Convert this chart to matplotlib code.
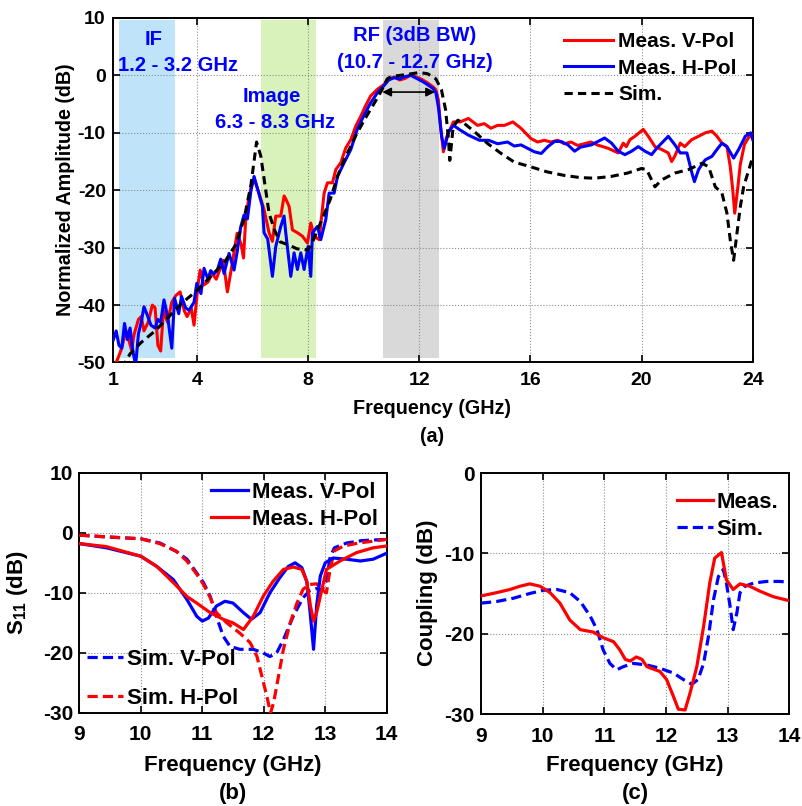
import matplotlib
matplotlib.use("Agg")
import matplotlib.pyplot as plt

plt.rcParams["font.family"] = ["Liberation Sans", "DejaVu Sans"]
plt.rcParams["font.weight"] = "bold"
plt.rcParams["mathtext.fontset"] = "custom"
plt.rcParams["mathtext.rm"] = "Liberation Sans:bold"
plt.rcParams["mathtext.bf"] = "Liberation Sans:bold"
plt.rcParams["axes.linewidth"] = 1.4
plt.rcParams["axes.unicode_minus"] = False
plt.rcParams["xtick.direction"] = "in"
plt.rcParams["ytick.direction"] = "in"

# ---------------- (a) normalized amplitude, 1-24 GHz ----------------
a_f_v = [1.0, 1.1, 1.2, 1.3, 1.45, 1.55, 1.65, 1.75, 1.9, 2.0, 2.1, 2.25, 2.4, 2.5, 2.6, 2.7,
         2.8, 2.95, 3.1, 3.25, 3.4, 3.55, 3.65, 3.8, 3.9, 4.05, 4.12, 4.25, 4.4, 4.55, 4.7,
         4.85, 4.95, 5.1, 5.25, 5.45, 5.6, 5.68, 5.76, 5.85, 5.95, 6.06, 6.24, 6.42, 6.6,
         6.72, 6.84, 7.02, 7.14, 7.2, 7.32, 7.44, 7.62, 7.8, 7.98, 8.1, 8.22, 8.4, 8.5, 8.58,
         8.7, 8.88, 9.0, 9.18, 9.36, 9.54, 9.72, 9.9, 10.07, 10.25, 10.5, 10.73, 10.9, 11.1,
         11.3, 11.5, 11.7, 11.9, 12.1, 12.3, 12.5, 12.6, 12.69, 12.77, 12.87, 12.99, 13.23,
         13.47, 13.77, 14.1, 14.34, 14.58, 14.82, 15.07, 15.37, 15.66, 16.02, 16.26, 16.5,
         16.74, 16.98, 17.22, 17.46, 17.7, 17.94, 18.18, 18.4, 18.8, 19.16, 19.34, 19.45,
         19.58, 19.76, 20.06, 20.24, 20.48, 20.72, 20.96, 21.08, 21.2, 21.39, 21.55, 21.8,
         22.05, 22.29, 22.53, 22.71, 22.89, 23.07, 23.19, 23.28, 23.35, 23.45, 23.55, 23.7,
         23.85, 24.0]
a_meas_v = [-50.5, -50, -48.8, -47.5, -44.4, -46, -47.8, -45, -42.5, -42, -44.5, -43, -40, -40.5,
            -47, -48, -41, -43, -39.5, -38.3, -37.7, -41, -42, -40.5, -43.5, -36.2, -33.9,
            -36.5, -36, -34.5, -35.5, -33.5, -32.2, -37.7, -33.5, -27.5, -29.5, -31.8, -25, -22,
            -19.5, -18.0, -20.5, -23.4, -27.4, -28.9, -24.5, -24.5, -21.0, -21.5, -22.8, -26.9,
            -27.4, -28, -29.2, -25.7, -28, -28.6, -24, -20.5, -18.7, -18.7, -16.4, -15.2, -12.6,
            -11.2, -8.8, -7.1, -5.3, -3.6, -2.4, -1.6, -0.6, -0.3, -0.8, -0.5, 0.1, -0.3, -0.7,
            -1.3, -2.0, -2.5, -4.3, -9, -13.3, -10.7, -8.1, -8.1, -7.5, -8.7, -8.4, -9.2, -8.7,
            -8.7, -8.1, -9.2, -11, -11.6, -11.3, -11.6, -11.3, -11.9, -11.6, -12.2, -11.9, -11.6,
            -12.1, -12.7, -13.5, -11.8, -12.4, -11.2, -10.6, -9.4, -10.6, -12.4, -12.9, -13.5,
            -15, -14, -11.8, -12.4, -11.2, -10.6, -10, -9.7, -10.6, -11.8, -12.4, -15.9, -20,
            -24, -20, -15.5, -12, -10.8, -10.3]

a_f_h = [1.0, 1.1, 1.2, 1.3, 1.4, 1.5, 1.6, 1.7, 1.8, 1.9, 2.0, 2.1, 2.2, 2.35, 2.5, 2.6, 2.7,
         2.82, 2.95, 3.1, 3.2, 3.35, 3.45, 3.6, 3.72, 3.9, 4.0, 4.15, 4.26, 4.4, 4.5, 4.62,
         4.74, 4.86, 4.98, 5.16, 5.34, 5.46, 5.58, 5.7, 5.82, 5.95, 6.06, 6.2, 6.36, 6.42,
         6.55, 6.72, 6.84, 7.02, 7.14, 7.2, 7.38, 7.5, 7.62, 7.74, 7.86, 8.0, 8.1, 8.16, 8.34,
         8.46, 8.64, 8.76, 8.94, 9.06, 9.3, 9.54, 9.77, 10.0, 10.25, 10.5, 10.73, 10.9, 11.1,
         11.3, 11.5, 11.7, 11.9, 12.1, 12.3, 12.5, 12.6, 12.69, 12.81, 12.9, 13.06, 13.23,
         13.47, 13.77, 14.17, 14.5, 14.82, 15.18, 15.42, 15.66, 15.9, 16.14, 16.39, 16.63,
         16.87, 17.1, 17.35, 17.59, 17.8, 18.19, 18.43, 18.67, 18.92, 19.16, 19.4, 19.64,
         19.88, 20.12, 20.36, 20.54, 20.72, 20.96, 21.2, 21.39, 21.63, 21.81, 21.9, 22.05,
         22.17, 22.29, 22.53, 22.71, 22.89, 23.07, 23.31, 23.49, 23.73, 23.92, 24.0]
a_meas_h = [-46, -44.5, -47, -47.5, -43.2, -46, -44, -48, -50.5, -45, -43, -40.3, -41.5, -43.5,
            -44, -42.5, -43, -39.1, -42, -47.5, -38.8, -41.5, -38.5, -40.5, -40.9, -39.5, -36.2,
            -38, -33.6, -35.5, -34, -34.6, -33.9, -32, -34.5, -31, -33.9, -30.5, -26.4, -24.3,
            -25, -20, -17.6, -20, -22.8, -27.4, -28.5, -35, -29.8, -26.3, -24.5, -27.4, -35,
            -30.9, -33.8, -30.9, -33.8, -29.8, -35, -27.4, -26.3, -28.6, -25.1, -20.5, -20.5,
            -17.6, -15.2, -12.9, -9.4, -7.1, -4.8, -3, -1.8, -0.8, -0.4, -0.6, -0.2, 0.0, -0.5,
            -1.0, -1.6, -2.3, -3.0, -5.5, -10.7, -12.7, -9.8, -8.7, -9.5, -10.4, -11.3, -11.3,
            -11.9, -11.6, -12.3, -12.1, -12.7, -13.3, -13.6, -12.4, -11.5, -11.5, -12.1, -13.2,
            -12.5, -12.1, -11.5, -10.9, -11.8, -13.2, -13.8, -13.2, -12.4, -13.2, -13.8, -12.7,
            -11.8, -10.6, -12.1, -13.5, -13.5, -17, -18.5, -16.4, -15.5, -14.7, -14.1, -12.9,
            -11.8, -12.4, -14.4, -12.9, -10.6, -10, -11.2]

a_f_sim = [1.3, 1.6, 2.0, 2.5, 3.0, 3.5, 4.0, 4.5, 5.0, 5.4, 5.7, 5.95, 6.15, 6.3, 6.45, 6.6,
           6.8, 7.0, 7.3, 7.6, 8.0, 8.2, 8.5, 8.8, 9.06, 9.3, 9.54, 9.77, 10.0, 10.25, 10.5,
           10.67, 10.85, 11.0, 11.3, 11.6, 12.0, 12.3, 12.6, 12.8, 12.95, 13.05, 13.1, 13.16,
           13.22, 13.39, 13.63, 13.99, 14.47, 14.95, 15.42, 16.0, 16.6, 17.2, 17.8, 18.3,
           18.9, 19.5, 20.0, 20.18, 20.36, 20.48, 20.72, 21.2, 21.69, 22.17, 22.41, 22.65,
           22.89, 23.07, 23.19, 23.31, 23.43, 23.55, 23.67, 23.86, 24.0]
a_sim = [-51, -48.5, -46.5, -44.5, -42, -39.5, -37.5, -35, -32.5, -29.5, -25, -19, -11.6, -14,
         -19, -24, -27, -29, -29.5, -30.2, -30.4, -28.6, -25.1, -21.6, -17.6, -14.7, -12.3, -10,
         -8, -5.9, -3.9, -2.4, -0.6, -0.2, 0.0, 0.2, 0.5, 0.3, -0.6, -2.5, -6, -11, -14.8, -12,
         -9, -7.8, -8.4, -9.8, -11.9, -13.6, -15.1, -15.9, -16.8, -17.4, -17.8, -17.9, -17.6,
         -17, -16.2, -16.4, -18.2, -19.4, -18.2, -17, -16.4, -15.3, -15.9, -19.4, -20.5, -24,
         -28.7, -32.2, -27.5, -22.9, -19.4, -16.4, -14.1]

# shaded frequency bands (GHz)
band_lo = [1.2, 6.3, 10.7]
band_hi = [3.2, 8.3, 12.7]
band_colors = ["#bfe3f8", "#d9f2bb", "#d9d9d9"]
bw_lo, bw_hi = 10.67, 12.57   # 3 dB bandwidth marker

# ---------------- (b) S11, 9-14 GHz ----------------
b_f_mv = [9.0, 9.44, 10.0, 10.26, 10.53, 10.75, 10.91, 11.0, 11.1, 11.23, 11.37, 11.5, 11.67,
          11.8, 11.94, 12.1, 12.26, 12.4, 12.51, 12.62, 12.7, 12.75, 12.81, 12.86, 12.92, 13.0,
          13.13, 13.35, 13.57, 13.78, 14.0]
b_meas_v = [-1.8, -2.5, -3.9, -5.6, -7.8, -11.1, -13.9, -14.7, -14.2, -12.2, -11.4, -11.7,
            -13.3, -14.4, -13.3, -10, -7.5, -5.6, -5.0, -5.8, -8.1, -12.8, -19.4, -12.2, -7.2,
            -5.0, -4.2, -4.4, -4.7, -4.4, -3.4]
b_f_mh = [9.0, 9.44, 10.0, 10.26, 10.53, 10.75, 10.91, 11.13, 11.34, 11.5, 11.67, 11.83, 11.99,
          12.15, 12.32, 12.48, 12.62, 12.7, 12.76, 12.81, 12.86, 12.92, 13.02, 13.24, 13.51,
          13.78, 14.0]
b_meas_h = [-1.8, -2.3, -3.9, -5.6, -8.3, -10.6, -11.7, -13.3, -14.4, -15, -16.1, -13.9, -10.6,
            -8.1, -6.1, -5.7, -6.1, -8.1, -12.2, -14.7, -13.3, -10.6, -6.1, -4.7, -3.3, -2.5,
            -2.2]
b_f_sv = [9.0, 9.44, 10.0, 10.31, 10.58, 10.75, 10.91, 11.02, 11.13, 11.23, 11.34, 11.45, 11.61,
          11.83, 11.99, 12.1, 12.21, 12.32, 12.48, 12.64, 12.75, 12.85, 12.95, 13.02, 13.08,
          13.15, 13.35, 13.6, 14.0]
b_sim_v = [-0.4, -0.7, -1.0, -1.7, -3.1, -4.4, -6.7, -8.3, -10.6, -13.9, -17.2, -18.9, -19.4,
           -19.4, -20.0, -20.6, -20.0, -17.8, -13.9, -10.8, -9.6, -9.3, -9.5, -8.0, -4.0, -2.5,
           -1.7, -1.3, -1.1]
b_f_sh = [9.0, 10.0, 10.31, 10.58, 10.75, 10.91, 11.02, 11.13, 11.23, 11.4, 11.61, 11.78, 11.89,
          11.97, 12.05, 12.11, 12.16, 12.22, 12.32, 12.43, 12.54, 12.64, 12.75, 12.86, 12.95,
          13.02, 13.08, 13.15, 13.3, 13.55, 14.0]
b_sim_h = [-0.4, -1.0, -1.8, -3.1, -4.7, -6.9, -8.6, -10.8, -13.3, -15.0, -16.7, -18.3, -20.6,
           -23.9, -27.2, -30.0, -28.3, -25.0, -19.4, -15.0, -11.7, -9.4, -8.6, -8.5, -9.5,
           -10.0, -6.0, -3.0, -2.2, -1.7, -1.1]

# ---------------- (c) coupling, 9-14 GHz ----------------
c_f_meas = [9.0, 9.25, 9.47, 9.63, 9.79, 9.96, 10.12, 10.28, 10.44, 10.61, 10.82, 10.98, 11.15,
            11.25, 11.34, 11.42, 11.52, 11.61, 11.69, 11.79, 11.9, 12.01, 12.12, 12.2, 12.31,
            12.39, 12.5, 12.61, 12.71, 12.79, 12.9, 12.98, 13.09, 13.2, 13.36, 13.52, 13.74,
            14.0]
c_meas = [-15.3, -14.9, -14.5, -14.1, -13.8, -14.1, -14.9, -16.2, -18.3, -19.5, -19.8, -20.5,
          -21.0, -22.0, -23.2, -23.4, -22.9, -23.2, -24.1, -24.4, -24.7, -25.7, -27.8, -29.4,
          -29.5, -27.4, -24.1, -19.1, -13.7, -10.6, -9.9, -13.3, -14.5, -13.8, -14.1, -14.7,
          -15.4, -15.9]
c_f_sim = [9.0, 9.25, 9.52, 9.79, 10.01, 10.23, 10.44, 10.61, 10.77, 10.88, 10.98, 11.09, 11.2,
           11.31, 11.47, 11.69, 11.9, 12.12, 12.28, 12.42, 12.52, 12.61, 12.69, 12.77, 12.85,
           12.93, 12.98, 13.04, 13.09, 13.15, 13.2, 13.28, 13.42, 13.63, 13.85, 14.0]
c_sim = [-16.2, -16.0, -15.6, -15.0, -14.6, -14.5, -14.9, -16.0, -17.8, -19.5, -22.0, -23.7,
         -24.5, -24.1, -23.7, -23.9, -24.3, -24.9, -25.7, -26.3, -25.7, -23.7, -20.3, -15.8,
         -12.9, -12.0, -13.7, -16.6, -19.5, -17.4, -14.9, -14.1, -13.7, -13.5, -13.5, -13.6]

W, H = 803, 806
fig = plt.figure(figsize=(W / 100, H / 100), dpi=100)


def fx(px):
    return px / W


def fy(py):
    return 1 - py / H


def style_axes(ax, size, xpad, ypad):
    ax.grid(True, linestyle=":", color="0.55", linewidth=0.8)
    ax.tick_params(top=True, right=True, length=5, width=1.2, labelsize=size)
    ax.tick_params(axis="x", pad=xpad)
    ax.tick_params(axis="y", pad=ypad)
    for lab in ax.get_xticklabels() + ax.get_yticklabels():
        lab.set_fontweight("bold")


red, blue = "#ff0000", "#0000ff"
dash_a = (0, (2.7, 1.7))
dash_b = (0, (3.2, 1.6))

# ----- panel (a)
ax = fig.add_axes([fx(113.4), fy(362.5), fx(752.8 - 113.4), (362.5 - 18) / H])
for lo, hi, c in zip(band_lo, band_hi, band_colors):
    ax.axvspan(lo, hi, ymin=0.012, ymax=0.995, color=c, lw=0, zorder=1)
ax.plot(a_f_v, a_meas_v, color=red, lw=2.2, label="Meas. V-Pol", zorder=3)
ax.plot(a_f_h, a_meas_h, color=blue, lw=2.2, label="Meas. H-Pol", zorder=4)
ax.plot(a_f_sim, a_sim, color="black", lw=2.2, ls=dash_a, label="Sim.", zorder=5)
ax.set_xlim(1, 24)
ax.set_ylim(-50, 10)
ax.set_xticks([1, 4, 8, 12, 16, 20, 24])
ax.set_yticks(range(-50, 11, 10))
style_axes(ax, 14, 7, 5.5)
ax.annotate("", xy=(bw_hi, -2.9), xytext=(bw_lo, -2.9),
            arrowprops=dict(arrowstyle="<|-|>", color="black", lw=1.2,
                            mutation_scale=13, shrinkA=0, shrinkB=0), zorder=6)
tk = dict(color=blue, fontsize=14.5, fontweight="bold", ha="center", va="center")
ax.text(2.43, 6.3, "IF", **tk)
ax.text(3.31, 1.65, "1.2 - 3.2 GHz", **tk)
ax.text(6.71, -3.6, "Image", **tk)
ax.text(6.82, -8.2, "6.3 - 8.3 GHz", **tk)
ax.text(11.84, 6.9, "RF (3dB BW)", **tk)
ax.text(11.85, 2.2, "(10.7 - 12.7 GHz)", **tk)
ax.legend(loc="center left", bbox_to_anchor=(fx(564), fy(68)), bbox_transform=fig.transFigure,
          frameon=False, handlelength=2.34, handletextpad=0.27,
          labelspacing=0.36, borderpad=0, borderaxespad=0,
          prop=dict(weight="bold", size=15))
fig.text(fx(432), fy(409), "Frequency (GHz)", fontsize=14.2, fontweight="bold",
         ha="center", va="center")
fig.text(fx(432), fy(436), "(a)", fontsize=14.2, fontweight="bold", ha="center", va="center")
fig.text(fx(66), fy(190), "Normalized Amplitude (dB)", fontsize=14.2, fontweight="bold",
         ha="center", va="center", rotation=90)

# ----- panel (b)
ax = fig.add_axes([fx(79.3), fy(713), fx(386.7 - 79.3), (713 - 472.7) / H])
l1, = ax.plot(b_f_mv, b_meas_v, color=blue, lw=2.3, label="Meas. V-Pol", zorder=4)
l2, = ax.plot(b_f_mh, b_meas_h, color=red, lw=2.3, label="Meas. H-Pol", zorder=5)
l3, = ax.plot(b_f_sv, b_sim_v, color=blue, lw=2.3, ls=dash_b, label="Sim. V-Pol", zorder=3)
l4, = ax.plot(b_f_sh, b_sim_h, color=red, lw=2.3, ls=dash_b, label="Sim. H-Pol", zorder=3)
ax.set_xlim(9, 14)
ax.set_ylim(-30, 10)
ax.set_xticks(range(9, 15))
ax.set_yticks(range(-30, 11, 10))
style_axes(ax, 15, 9, 4.5)
leg = ax.legend(handles=[l1, l2], loc="center left", bbox_to_anchor=(fx(210.7), fy(506)),
                bbox_transform=fig.transFigure, frameon=False, handlelength=1.7,
                handletextpad=0.15, labelspacing=0.26, borderpad=0, borderaxespad=0,
                prop=dict(weight="bold", size=16))
ax.add_artist(leg)
ax.legend(handles=[l3, l4], loc="center left", bbox_to_anchor=(fx(86.7), fy(679)),
          bbox_transform=fig.transFigure, frameon=False, handlelength=1.65,
          handletextpad=0.17, labelspacing=0.8, borderpad=0, borderaxespad=0,
          prop=dict(weight="bold", size=16))
fig.text(fx(233), fy(765), "Frequency (GHz)", fontsize=16, fontweight="bold",
         ha="center", va="center")
fig.text(fx(233), fy(793), "(b)", fontsize=16, fontweight="bold", ha="center", va="center")
fig.text(fx(18), fy(593), r"S$_{\mathbf{11}}$ (dB)", fontsize=16, fontweight="bold",
         ha="center", va="center", rotation=90)

# ----- panel (c)
ax = fig.add_axes([fx(481), fy(714), fx(789.3 - 481), (714 - 473) / H])
ax.plot(c_f_meas, c_meas, color=red, lw=2.3, label="Meas.", zorder=4)
ax.plot(c_f_sim, c_sim, color=blue, lw=2.3, ls=dash_b, label="Sim.", zorder=3)
ax.set_xlim(9, 14)
ax.set_ylim(-30, 0)
ax.set_xticks(range(9, 15))
ax.set_yticks(range(-30, 1, 10))
style_axes(ax, 15, 9, 4.5)
ax.legend(loc="center left", bbox_to_anchor=(fx(676.7), fy(516)),
          bbox_transform=fig.transFigure, frameon=False, handlelength=1.65,
          handletextpad=0.15, labelspacing=0.28, borderpad=0, borderaxespad=0,
          prop=dict(weight="bold", size=16))
fig.text(fx(635), fy(765), "Frequency (GHz)", fontsize=16, fontweight="bold",
         ha="center", va="center")
fig.text(fx(635), fy(793), "(c)", fontsize=16, fontweight="bold", ha="center", va="center")
fig.text(fx(428), fy(593), "Coupling (dB)", fontsize=16, fontweight="bold",
         ha="center", va="center", rotation=90)

fig.savefig("out.png", dpi=100)
